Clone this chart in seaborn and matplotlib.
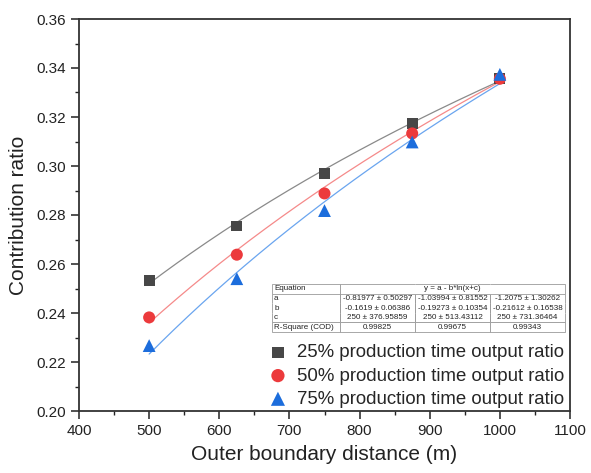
import numpy as np
import pandas as pd
import matplotlib
matplotlib.use("Agg")
import matplotlib.pyplot as plt
import seaborn as sns

# ---- data ----
distance = [500, 625, 750, 875, 1000]
ratio_25 = [0.2532, 0.2755, 0.2970, 0.3175, 0.3356]
ratio_50 = [0.2382, 0.2638, 0.2888, 0.3133, 0.3356]
ratio_75 = [0.2267, 0.2540, 0.2818, 0.3098, 0.3374]
series_labels = ["25% production time output ratio",
                 "50% production time output ratio",
                 "75% production time output ratio"]

# fit parameters y = a - b*ln(x+c)
fit_a = [-0.81977, -1.03994, -1.2075]
fit_b = [-0.1619, -0.19273, -0.21612]
fit_c = [250, 250, 250]
fit_a_txt = ["-0.81977 ± 0.50297", "-1.03994 ± 0.81552", "-1.2075 ± 1.30262"]
fit_b_txt = ["-0.1619 ± 0.06386", "-0.19273 ± 0.10354", "-0.21612 ± 0.16538"]
fit_c_txt = ["250 ± 376.95859", "250 ± 513.43112", "250 ± 731.36464"]
r_square_txt = ["0.99825", "0.99675", "0.99343"]

x_ticks = [400, 500, 600, 700, 800, 900, 1000, 1100]
y_ticks = [0.20, 0.22, 0.24, 0.26, 0.28, 0.30, 0.32, 0.34, 0.36]

# ---- style ----
sns.set_style("white")
plt.rcParams["font.family"] = ["Liberation Sans", "DejaVu Sans"]

marker_colors = ["#474747", "#ec3a3c", "#1c6ddc"]
line_colors = ["#8a8a8a", "#f58a8a", "#6aa5ef"]
markers = ["s", "o", "^"]
sizes = [60, 75, 85]

fig = plt.figure(figsize=(5.91, 4.73), dpi=100)
ax = fig.add_axes([79/591, 1-411/473, (570-79)/591, (411-19)/473])

points = pd.DataFrame({
    "x": distance * 3,
    "y": ratio_25 + ratio_50 + ratio_75,
    "series": [series_labels[0]]*5 + [series_labels[1]]*5 + [series_labels[2]]*5,
})

xf = np.linspace(min(distance), max(distance), 200)
for i in range(3):
    yf = fit_a[i] - fit_b[i] * np.log(xf + fit_c[i])
    sns.lineplot(x=xf, y=yf, ax=ax, color=line_colors[i], lw=0.9, zorder=2)

for i in range(3):
    sub = points[points["series"] == series_labels[i]]
    sns.scatterplot(data=sub, x="x", y="y", ax=ax, marker=markers[i], s=sizes[i],
                    color=marker_colors[i], edgecolor="none", linewidth=0,
                    label=series_labels[i], zorder=3)

ax.set_xlim(400, 1100)
ax.set_ylim(0.20, 0.36)
ax.set_xticks(x_ticks)
ax.set_yticks(y_ticks)
ax.set_yticklabels([f"{v:.2f}" for v in y_ticks])
ax.set_xticks([450, 550, 650, 750, 850, 950, 1050], minor=True)
ax.set_yticks([0.21, 0.23, 0.25, 0.27, 0.29, 0.31, 0.33, 0.35], minor=True)
ax.tick_params(which="major", direction="out", length=6, width=1.1, colors="#222222",
               labelsize=11, left=True, bottom=True, labelcolor="#222222")
ax.tick_params(which="minor", direction="out", length=3, width=1.0, colors="#222222",
               left=True, bottom=True)
for s in ax.spines.values():
    s.set_color("#333333")
    s.set_linewidth(1.3)

ax.set_xlabel("Outer boundary distance (m)", fontsize=15, labelpad=5, color="#222222")
ax.set_ylabel("Contribution ratio", fontsize=15, labelpad=6, color="#222222")

leg = ax.legend(loc="lower right", bbox_to_anchor=(1.012, -0.02), frameon=False,
                fontsize=13.4, handlelength=1.0, handletextpad=0.55,
                labelspacing=0.33, borderaxespad=0.2, markerscale=1.1)

# ---- fit table ----
cell_text = [
    ["Equation", "", "y = a - b*ln(x+c)", ""],
    ["a"] + fit_a_txt,
    ["b"] + fit_b_txt,
    ["c"] + fit_c_txt,
    ["R-Square (COD)"] + r_square_txt,
]
x0 = (272-79)/491
x1 = (565-79)/491
y1 = (411-284)/392
y0 = (411-332)/392
tbl = ax.table(cellText=cell_text, bbox=[x0, y0, x1-x0, y1-y0],
               colWidths=[0.232, 0.256, 0.256, 0.256], cellLoc="center")
tbl.auto_set_font_size(False)
tbl.set_fontsize(5.8)
for (r, c), cell in tbl.get_celld().items():
    cell.set_edgecolor("#9a9a9a")
    cell.set_linewidth(0.6)
    cell.set_facecolor("white")
    cell.get_text().set_color("#222222")
    if c == 0:
        cell.get_text().set_ha("left")
        cell._loc = "left"
        cell.PAD = 0.03
    if r == 0:
        if c == 0:
            cell.visible_edges = "closed"
        elif c == 1:
            cell.visible_edges = "TBL"
        elif c == 2:
            cell.visible_edges = "TB"
        else:
            cell.visible_edges = "TBR"
    elif r in (1, 2):
        cell.visible_edges = "LR"
    elif r == 3:
        cell.visible_edges = "LRB"
    else:
        cell.visible_edges = "closed"

fig.savefig("out.png", dpi=100)
